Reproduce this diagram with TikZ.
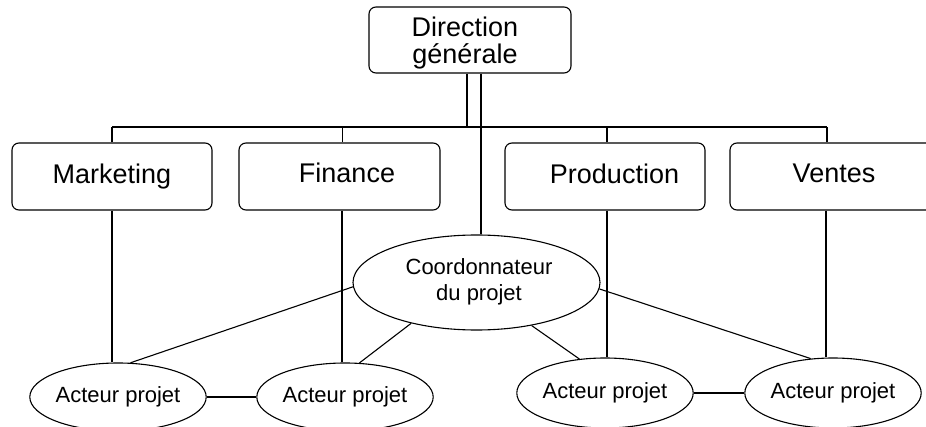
\documentclass[tikz,border=0pt]{standalone}
\usepackage{fontspec}
\setmainfont{Liberation Sans}
\usetikzlibrary{shapes.geometric}
\begin{document}
\begin{tikzpicture}[x=1pt,y=-1pt,
  line width=1.1pt,
  unitbox/.style={draw, rounded corners=7pt, minimum width=200pt, minimum height=67pt,
    inner sep=0pt, font=\fontsize{27pt}{27pt}\selectfont},
  actor/.style={draw, ellipse, minimum width=174pt, minimum height=68pt, inner sep=0pt,
    font=\fontsize{22pt}{26pt}\selectfont},
  boxtext/.style={font=\fontsize{27pt}{27pt}\selectfont, align=center}]
\useasboundingbox (0,0) rectangle (926,427);

% top management
\node[unitbox, minimum width=202pt, minimum height=66pt,
  label={[boxtext, xshift=-5pt, yshift=-3pt]center:Direction\\générale}] (dg) at (470,40) {};

% departments
\node[unitbox, label={[boxtext]center:Marketing}] (mk) at (112,176.5) {};
\node[unitbox, minimum width=201pt, label={[boxtext, xshift=7.5pt, yshift=3.5pt]center:Finance}] (fi) at (339.5,176.5) {};
\node[unitbox, label={[boxtext, xshift=9.5pt, yshift=2.5pt]center:Production}] (pr) at (605,176.5) {};
\node[unitbox, minimum width=205pt, label={[boxtext, xshift=1.5pt, yshift=3pt]center:Ventes}] (ve) at (832.5,176.5) {};

% project coordinator
\node[draw, ellipse, minimum width=247pt, minimum height=95pt, inner sep=0pt,
  label={[font=\fontsize{22pt}{26pt}\selectfont, align=center, xshift=2.5pt, yshift=1pt]center:Coordonnateur\\du projet}]
  (co) at (476.5,282.5) {};

% project actors
\node[actor] (a1) at (118,397) {Acteur projet};
\node[actor] (a2) at (345,397) {Acteur projet};
\node[actor, minimum width=176pt, minimum height=70pt] (a3) at (605,393) {Acteur projet};
\node[actor, minimum width=176pt, minimum height=70pt] (a4) at (833,393) {Acteur projet};

% bus joining the departments
\coordinate (busL) at (112,127);
\coordinate (busR) at (827,127);
\draw (busL) -- (busR);
\draw ([xshift=-3pt]dg.south) -- ([xshift=-3pt]dg.south |- busL);
\draw ([xshift=11pt]dg.south) -- ([xshift=11pt]dg.south |- co.north);
\draw (mk.north) -- (busL);
\draw ([xshift=3pt]fi.north) -- ([xshift=3pt]fi.north |- busL);
\draw ([xshift=2pt]pr.north) -- ([xshift=2pt]pr.north |- busL);
\draw ([xshift=-5.5pt]ve.north) -- (busR);

% departments down to their actors
\draw (mk.south) -- (mk.south |- a1.north);
\draw ([xshift=2.5pt]fi.south) -- ([xshift=2.5pt]fi.south |- a2.north);
\draw ([xshift=2pt]pr.south) -- ([xshift=2pt]pr.south |- a3.north);
\draw ([xshift=-6.5pt]ve.south) -- ([xshift=-6.5pt]ve.south |- a4.north);

% coordinator to actors
\draw (co.182) -- (a1.70);
\draw (co.212.6) -- (a2.67);
\draw (co.322) -- (a3.127);
\draw (co.357.4) -- (a4.123);

% links between actors
\draw (a1.east) -- (a2.west);
\draw (a3.east) -- (a4.west);
\end{tikzpicture}
\end{document}
